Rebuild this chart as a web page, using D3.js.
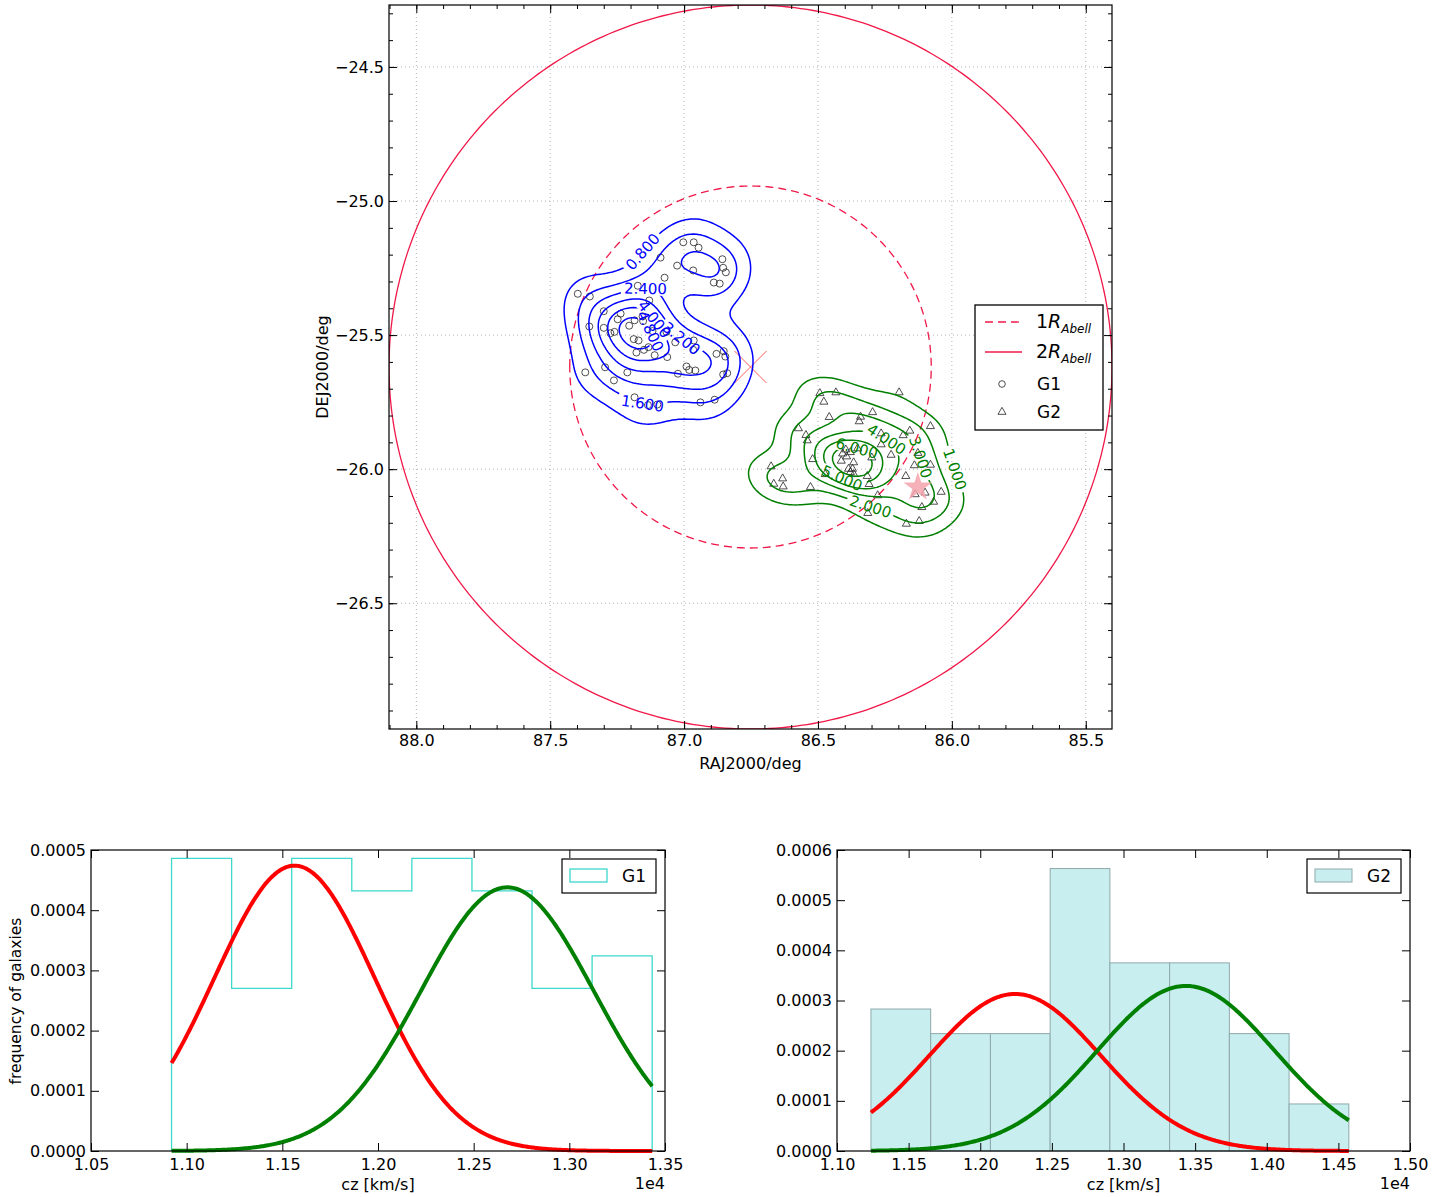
<!DOCTYPE html>
<html><head><meta charset="utf-8">
<script src="https://cdn.jsdelivr.net/npm/d3@7"></script>
<style>
body{margin:0;background:#fff}
svg text{font-family:"DejaVu Sans",sans-serif;fill:#000}
</style>
</head><body>
<svg id="fig" width="1446" height="1197"></svg>
<script>
// ---- sky map data (deg) ----
const clusterCenter = [86.752, -25.619];
const abellRadius = 0.675;
const brightStar = [86.127, -26.067];

const g1RA = [87.003,86.964,86.946,87.088,86.857,87.026,86.966,86.854,86.844,87.073,
  86.889,86.867,87.173,87.397,87.352,87.130,87.300,87.237,87.248,87.155,
  87.185,87.153,87.205,87.354,87.300,87.260,87.275,87.118,87.066,87.188,
  87.170,87.133,87.150,87.178,87.110,87.063,87.033,86.964,86.966,86.879,
  86.852,86.846,87.295,87.369,87.212,86.991,86.981,86.958,87.023,86.854,
  86.839,87.262,87.185,87.135,87.100,86.939,86.886];
const g1Dec = [-25.154,-25.154,-25.174,-25.211,-25.217,-25.241,-25.259,-25.249,-25.266,-25.286,
  -25.304,-25.308,-25.316,-25.346,-25.356,-25.371,-25.411,-25.420,-25.441,-25.430,
  -25.445,-25.448,-25.465,-25.468,-25.473,-25.488,-25.493,-25.485,-25.488,-25.515,
  -25.520,-25.545,-25.555,-25.565,-25.575,-25.582,-25.527,-25.520,-25.555,-25.570,
  -25.560,-25.580,-25.620,-25.639,-25.639,-25.617,-25.630,-25.632,-25.644,-25.647,
  -25.642,-25.669,-25.732,-25.761,-25.759,-25.751,-25.741];

const g2RA = [86.493,86.433,86.478,86.197,86.458,86.341,86.296,86.346,86.573,86.545,
  86.540,86.264,86.182,86.157,86.080,86.227,86.299,86.396,86.408,86.379,
  86.413,86.140,86.080,86.520,86.675,86.386,86.371,86.379,86.366,86.473,
  86.316,86.172,86.309,86.632,86.665,86.630,86.528,86.277,86.137,86.100,
  86.040,86.068,86.112,86.314,86.122,86.170,86.264,86.393,86.352,86.367,
  86.127];
const g2Dec = [-25.717,-25.714,-25.749,-25.714,-25.806,-25.805,-25.788,-25.822,-25.848,-25.873,
  -25.893,-25.867,-25.874,-25.857,-25.840,-25.947,-25.957,-25.927,-25.942,-25.937,
  -25.969,-25.986,-25.984,-25.963,-25.990,-25.999,-25.999,-26.011,-26.019,-26.019,
  -26.026,-26.026,-26.056,-26.035,-26.055,-26.065,-26.067,-26.098,-26.094,-26.088,
  -26.085,-26.122,-26.142,-26.164,-26.194,-26.204,-25.908,-25.953,-25.923,-25.975,
  -25.940];

// density contour levels and where each level carries its label (RA, Dec)
const g1Levels = [0.8, 1.6, 2.4, 3.2, 4.0, 4.8];
const g1LabelAt = [[87.159,-25.180],[87.150,-25.750],[87.138,-25.308],[87.026,-25.532],[87.088,-25.427],[87.135,-25.489]];
const g2Levels = [1, 2, 3, 4, 5, 6];
const g2LabelAt = [[85.993,-25.999],[86.304,-26.136],[86.117,-25.949],[86.223,-25.862],[86.410,-26.030],[86.360,-25.943]];

const raTicks = [88.0, 87.5, 87.0, 86.5, 86.0, 85.5];
const decTicks = [-24.5, -25.0, -25.5, -26.0, -26.5];

// ---- velocity histograms (cz in km/s, normalised counts) ----
const g1Edges = [10921, 11235, 11549, 11863, 12177, 12491, 12805, 13119, 13433];
const g1Density = [0.000486, 0.000270, 0.000486, 0.000432, 0.000486, 0.000432, 0.000270, 0.000324];
const g2Edges = [11237, 11654, 12071, 12488, 12905, 13322, 13739, 14156, 14573];
const g2Density = [0.000283, 0.000234, 0.000234, 0.000563, 0.000375, 0.000375, 0.000234, 0.0000938];

// fitted gaussian components: [amplitude, mean, sigma]
const g1Fits = [[0.000474, 11564, 419], [0.000438, 12676, 452]];
const g2Fits = [[0.000313, 12243, 600], [0.000329, 13436, 620]];
const fitColors = ["#ff0000", "#008000"];

const czTicksLeft = [10500, 11000, 11500, 12000, 12500, 13000, 13500];
const czTicksRight = [11000, 11500, 12000, 12500, 13000, 13500, 14000, 14500, 15000];
const freqTicksLeft = [0, 0.0001, 0.0002, 0.0003, 0.0004, 0.0005];
const freqTicksRight = [0, 0.0001, 0.0002, 0.0003, 0.0004, 0.0005, 0.0006];

const svg = d3.select("#fig");
const defs = svg.append("defs");
const circleRed = "#f01848";

// ---------- helpers ----------
function frameAxes(g, x, y, box, o) {
  // ticks pointing inwards on all four sides
  const ax = (gen, tr) => g.append("g").attr("transform", tr).call(gen).call(s => s.select(".domain").remove());
  ax(d3.axisBottom(x).tickValues(o.xt).tickSize(-o.major).tickPadding(o.xpad).tickFormat(o.xf), `translate(0,${box.b})`);
  ax(d3.axisTop(x).tickValues(o.xt).tickSize(-o.major).tickFormat(""), `translate(0,${box.t})`);
  ax(d3.axisLeft(y).tickValues(o.yt).tickSize(-o.major).tickPadding(o.ypad).tickFormat(o.yf), `translate(${box.l},0)`);
  ax(d3.axisRight(y).tickValues(o.yt).tickSize(-o.major).tickFormat(""), `translate(${box.r},0)`);
  if (o.xm) {
    ax(d3.axisBottom(x).tickValues(o.xm).tickSize(-o.minor).tickFormat(""), `translate(0,${box.b})`);
    ax(d3.axisTop(x).tickValues(o.xm).tickSize(-o.minor).tickFormat(""), `translate(0,${box.t})`);
    ax(d3.axisLeft(y).tickValues(o.ym).tickSize(-o.minor).tickFormat(""), `translate(${box.l},0)`);
    ax(d3.axisRight(y).tickValues(o.ym).tickSize(-o.minor).tickFormat(""), `translate(${box.r},0)`);
  }
  g.selectAll(".tick line").attr("stroke", "#000").attr("stroke-width", 1);
  g.selectAll(".tick text").attr("font-size", 16).attr("font-family", "DejaVu Sans").attr("fill", "#000");
  g.append("rect").attr("x", box.l).attr("y", box.t).attr("width", box.r - box.l).attr("height", box.b - box.t)
    .attr("fill", "none").attr("stroke", "#000").attr("stroke-width", 1.2);
}

// scipy-style gaussian KDE (Scott's rule bandwidth)
function gaussianKDE(xs, ys) {
  const n = xs.length, mx = d3.mean(xs), my = d3.mean(ys);
  let sxx = 0, syy = 0, sxy = 0;
  for (let i = 0; i < n; i++) { const dx = xs[i] - mx, dy = ys[i] - my; sxx += dx * dx; syy += dy * dy; sxy += dx * dy; }
  const f2 = Math.pow(n, -1 / 3);
  const a = sxx / (n - 1) * f2, b = sxy / (n - 1) * f2, c = syy / (n - 1) * f2;
  const det = a * c - b * b, ia = c / det, ib = -b / det, ic = a / det;
  const norm = 1 / (n * 2 * Math.PI * Math.sqrt(det));
  return (x, y) => {
    let s = 0;
    for (let i = 0; i < n; i++) {
      const dx = x - xs[i], dy = y - ys[i];
      s += Math.exp(-0.5 * (ia * dx * dx + 2 * ib * dx * dy + ic * dy * dy));
    }
    return s * norm;
  };
}

// ================= sky map =================
const mapBox = {l: 389, r: 1112, t: 5, b: 729};
const xMap = d3.scaleLinear().domain([clusterCenter[0] + 2 * abellRadius, clusterCenter[0] - 2 * abellRadius]).range([mapBox.l, mapBox.r]);
const yMap = d3.scaleLinear().domain([clusterCenter[1] + 2 * abellRadius, clusterCenter[1] - 2 * abellRadius]).range([mapBox.t, mapBox.b]);

defs.append("clipPath").attr("id", "mapclip").append("rect")
  .attr("x", mapBox.l).attr("y", mapBox.t).attr("width", mapBox.r - mapBox.l).attr("height", mapBox.b - mapBox.t);

const gMap = svg.append("g");
const gPlot = gMap.append("g").attr("clip-path", "url(#mapclip)");

// dotted grid
gPlot.append("g").selectAll("line").data(raTicks).join("line")
  .attr("x1", d => xMap(d)).attr("x2", d => xMap(d)).attr("y1", mapBox.t).attr("y2", mapBox.b);
gPlot.append("g").selectAll("line").data(decTicks).join("line")
  .attr("y1", d => yMap(d)).attr("y2", d => yMap(d)).attr("x1", mapBox.l).attr("x2", mapBox.r);
gPlot.selectAll("line").attr("stroke", "#a0a0a0").attr("stroke-width", 0.8).attr("stroke-dasharray", "1,3");

// Abell radius circles
const ringLine = d3.line().x(d => xMap(d[0])).y(d => yMap(d[1]));
function ring(r) {
  return d3.range(0, 361, 1).map(t => [clusterCenter[0] + r * Math.cos(t * Math.PI / 180), clusterCenter[1] + r * Math.sin(t * Math.PI / 180)]);
}
gPlot.append("path").attr("d", ringLine(ring(abellRadius))).attr("fill", "none")
  .attr("stroke", circleRed).attr("stroke-width", 1.3).attr("stroke-dasharray", "8,5");
gPlot.append("path").attr("d", ringLine(ring(2 * abellRadius))).attr("fill", "none")
  .attr("stroke", circleRed).attr("stroke-width", 1.3);

// density contours
const nx = 241, ny = 241;
const cw = (mapBox.r - mapBox.l) / nx, ch = (mapBox.b - mapBox.t) / ny;
const toPx = p => [mapBox.l + p[0] * cw, mapBox.t + p[1] * ch];
const gridPath = d3.geoPath(d3.geoTransform({
  point(x, y) { const p = toPx([x, y]); this.stream.point(p[0], p[1]); }
}));

function densityContours(xs, ys, levels) {
  const kde = gaussianKDE(xs, ys);
  const values = new Float64Array(nx * ny);
  for (let j = 0; j < ny; j++) {
    const dec = yMap.invert(mapBox.t + (j + 0.5) * ch);
    for (let i = 0; i < nx; i++) values[j * nx + i] = kde(xMap.invert(mapBox.l + (i + 0.5) * cw), dec);
  }
  return d3.contours().size([nx, ny]).thresholds(levels)(values);
}

// where a level's label sits: nearest contour vertex to the anchor, angle along the line
function labelSpot(c, anchor) {
  const target = [xMap(anchor[0]), yMap(anchor[1])];
  let best = null, bestD = Infinity;
  c.coordinates.forEach(poly => poly.forEach(r => {
    const pts = r.map(toPx);
    pts.forEach((p, i) => {
      const d = (p[0] - target[0]) ** 2 + (p[1] - target[1]) ** 2;
      if (d < bestD) { bestD = d; best = {pts, i}; }
    });
  }));
  if (!best) return null;
  const {pts, i} = best, n = pts.length;
  const a = pts[(i - 3 + n) % n], b = pts[(i + 3) % n];
  let ang = Math.atan2(b[1] - a[1], b[0] - a[0]) * 180 / Math.PI;
  if (ang > 90) ang -= 180;
  if (ang < -90) ang += 180;
  return {x: pts[i][0], y: pts[i][1], ang};
}

// contour lines broken where their inline label sits
function drawLabelledContours(cs, anchors, color, name) {
  const gl = gPlot.append("g"), gt = gPlot.append("g");
  cs.forEach((c, k) => {
    const spot = labelSpot(c, anchors[k]);
    const mid = `m-${name}-${k}`;
    const mask = defs.append("mask").attr("id", mid).attr("maskUnits", "userSpaceOnUse")
      .attr("x", 0).attr("y", 0).attr("width", 1446).attr("height", 1197);
    mask.append("rect").attr("width", 1446).attr("height", 1197).attr("fill", "#fff");
    gl.append("path").datum(c).attr("d", gridPath).attr("fill", "none").attr("stroke", color)
      .attr("stroke-width", 1.5).attr("stroke-linejoin", "round").attr("mask", `url(#${mid})`);
    if (!spot) return;
    const t = gt.append("text")
      .attr("transform", `translate(${spot.x},${spot.y}) rotate(${spot.ang})`)
      .attr("text-anchor", "middle").attr("dy", "0.36em").attr("font-size", 15)
      .style("fill", color).text(d3.format(".3f")(c.value));
    const w = t.node().getComputedTextLength() + 6;
    mask.append("rect").attr("x", -w / 2).attr("y", -7).attr("width", w).attr("height", 14)
      .attr("transform", `translate(${spot.x},${spot.y}) rotate(${spot.ang})`).attr("fill", "#000");
  });
}

const g1Contours = densityContours(g1RA, g1Dec, g1Levels);
const g2Contours = densityContours(g2RA, g2Dec, g2Levels);

// cluster centre cross and the bright star
const cx = xMap(clusterCenter[0]), cy = yMap(clusterCenter[1]);
gPlot.append("path").attr("d", `M${cx - 16},${cy - 16}L${cx + 16},${cy + 16}M${cx - 16},${cy + 16}L${cx + 16},${cy - 16}`)
  .attr("stroke", "#ff5a5a").attr("stroke-width", 1).attr("fill", "none");

// galaxies
const triSym = d3.symbol(d3.symbolTriangle, 28)();
gPlot.append("g").selectAll("circle").data(d3.range(g1RA.length)).join("circle")
  .attr("cx", i => xMap(g1RA[i])).attr("cy", i => yMap(g1Dec[i])).attr("r", 3.5)
  .attr("fill", "none").attr("stroke", "#222").attr("stroke-width", 0.8);
gPlot.append("g").selectAll("path").data(d3.range(g2RA.length)).join("path")
  .attr("d", triSym).attr("transform", i => `translate(${xMap(g2RA[i])},${yMap(g2Dec[i])})`)
  .attr("fill", "none").attr("stroke", "#222").attr("stroke-width", 0.8);

drawLabelledContours(g1Contours, g1LabelAt, "#0000ff", "g1");
drawLabelledContours(g2Contours, g2LabelAt, "#007f00", "g2");

gPlot.append("path").attr("d", d3.symbol(d3.symbolStar, 260)())
  .attr("transform", `translate(${xMap(brightStar[0])},${yMap(brightStar[1])})`)
  .attr("fill", "#f4a2ac").attr("opacity", 0.85);

const raMinor = d3.range(854, 882).map(v => v / 10).filter(v => v <= xMap.domain()[0] && v >= xMap.domain()[1]);
const decMinor = d3.range(-269, -242).map(v => v / 10).filter(v => v <= yMap.domain()[0] && v >= yMap.domain()[1]);
frameAxes(gMap, xMap, yMap, mapBox, {
  xt: raTicks, yt: decTicks, xm: raMinor, ym: decMinor, major: 8, minor: 4,
  xf: d3.format(".1f"), yf: d3.format(".1f"), xpad: 6, ypad: 5
});
gMap.append("text").attr("x", (mapBox.l + mapBox.r) / 2).attr("y", 769).attr("text-anchor", "middle")
  .attr("font-size", 16).text("RAJ2000/deg");
gMap.append("text").attr("transform", `translate(328,${(mapBox.t + mapBox.b) / 2}) rotate(-90)`)
  .attr("text-anchor", "middle").attr("font-size", 16).text("DEJ2000/deg");

// legend
const lg = gMap.append("g");
lg.append("rect").attr("x", 975).attr("y", 305).attr("width", 128).attr("height", 125)
  .attr("fill", "#fff").attr("stroke", "#000").attr("stroke-width", 1.3);
lg.append("line").attr("x1", 985).attr("x2", 1022).attr("y1", 322).attr("y2", 322)
  .attr("stroke", circleRed).attr("stroke-width", 1.3).attr("stroke-dasharray", "8,5");
lg.append("line").attr("x1", 985).attr("x2", 1022).attr("y1", 352).attr("y2", 352)
  .attr("stroke", circleRed).attr("stroke-width", 1.3);
lg.append("circle").attr("cx", 1002).attr("cy", 384).attr("r", 3.3).attr("fill", "none").attr("stroke", "#222").attr("stroke-width", 0.8);
lg.append("path").attr("d", triSym).attr("transform", "translate(1002,412)").attr("fill", "none").attr("stroke", "#222").attr("stroke-width", 0.8);
[["1", 328], ["2", 358]].forEach(([k, yy]) => {
  const t = lg.append("text").attr("x", 1036).attr("y", yy).attr("font-family", "DejaVu Serif").attr("font-size", 19);
  t.append("tspan").text(k);
  t.append("tspan").attr("font-style", "italic").text("R");
  t.append("tspan").attr("font-style", "italic").attr("font-size", 12).attr("dy", 5).text("Abell");
});
lg.append("text").attr("x", 1037).attr("y", 390).attr("font-size", 17).text("G1");
lg.append("text").attr("x", 1037).attr("y", 418).attr("font-size", 17).text("G2");

// ================= velocity histograms =================
function histogramPanel(box, xDomain, yDomain, xt, yt, edges, dens, fits, label, filled) {
  const g = svg.append("g");
  const x = d3.scaleLinear().domain(xDomain).range([box.l, box.r]);
  const y = d3.scaleLinear().domain(yDomain).range([box.b, box.t]);
  const fillC = "#c8eef0", edgeC = "#8fa9ab", stepC = "#3dd8cc";
  if (filled) {
    g.append("g").selectAll("rect").data(dens).join("rect")
      .attr("x", (d, i) => x(edges[i])).attr("width", (d, i) => x(edges[i + 1]) - x(edges[i]))
      .attr("y", d => y(d)).attr("height", d => y(0) - y(d))
      .attr("fill", fillC).attr("stroke", edgeC).attr("stroke-width", 1);
  } else {
    let p = `M${x(edges[0])},${y(0)}`;
    dens.forEach((d, i) => { p += `V${y(d)}H${x(edges[i + 1])}`; });
    p += `V${y(0)}`;
    g.append("path").attr("d", p).attr("fill", "none").attr("stroke", stepC).attr("stroke-width", 1.3);
  }
  const lo = edges[0], hi = edges[edges.length - 1];
  const czs = d3.range(0, 401).map(k => lo + (hi - lo) * k / 400);
  fits.forEach((f, k) => {
    const line = d3.line().x(c => x(c)).y(c => y(f[0] * Math.exp(-0.5 * ((c - f[1]) / f[2]) ** 2)));
    g.append("path").attr("d", line(czs)).attr("fill", "none").attr("stroke", fitColors[k]).attr("stroke-width", 4);
  });
  frameAxes(g, x, y, box, {
    xt, yt, major: 8, xf: d => d3.format(".2f")(d / 1e4), yf: d3.format(".4f"), xpad: 8, ypad: 5
  });
  g.append("text").attr("x", (box.l + box.r) / 2).attr("y", 1190).attr("text-anchor", "middle").attr("font-size", 16).text("cz [km/s]");
  g.append("text").attr("x", box.r).attr("y", 1189).attr("text-anchor", "end").attr("font-size", 16).text("1e4");
  // legend
  const lx = box.r - 103, ly = 859;
  g.append("rect").attr("x", lx).attr("y", ly).attr("width", 94).attr("height", 34).attr("fill", "#fff").attr("stroke", "#000").attr("stroke-width", 1.2);
  g.append("rect").attr("x", lx + 8).attr("y", ly + 10).attr("width", 37).attr("height", 13)
    .attr("fill", filled ? fillC : "none").attr("stroke", filled ? edgeC : stepC).attr("stroke-width", filled ? 1 : 1.3);
  g.append("text").attr("x", lx + 60).attr("y", ly + 23).attr("font-size", 17).text(label);
  return g;
}

histogramPanel({l: 91, r: 665, t: 850, b: 1151}, [10500, 13500], [0, 0.0005], czTicksLeft, freqTicksLeft,
  g1Edges, g1Density, g1Fits, "G1", false);
histogramPanel({l: 837, r: 1410, t: 850, b: 1151}, [11000, 15000], [0, 0.0006], czTicksRight, freqTicksRight,
  g2Edges, g2Density, g2Fits, "G2", true);
svg.append("text").attr("transform", "translate(21,1001) rotate(-90)").attr("text-anchor", "middle")
  .attr("font-size", 15.5).text("frequency of galaxies");
</script>
</body></html>
